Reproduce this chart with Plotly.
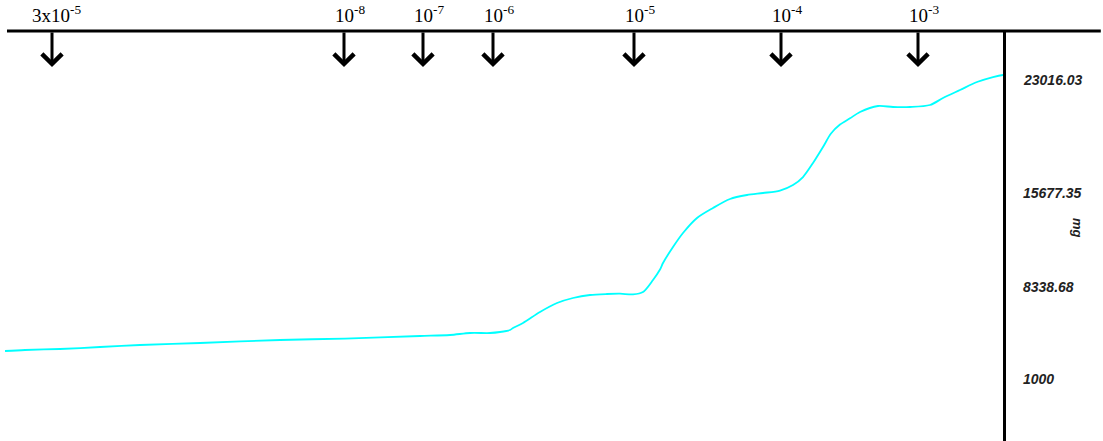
import plotly.graph_objects as go

# Trace data (time units, mass in mg)
time_s = [0, 20, 55, 95, 135, 195, 275, 340, 415, 445, 465, 485, 495, 505, 508, 518,
          535, 552, 568, 585, 602, 615, 628, 638, 648, 655, 658, 668, 678, 692,
          708, 725, 742, 758, 775, 788, 798, 808, 818, 826, 835, 845, 855, 873, 888, 905,
          925, 938, 955, 972, 988, 998, 1000]
mass_mg = [3100, 3173, 3245, 3390, 3535, 3680, 3897, 4000, 4186, 4259, 4404, 4404, 4476,
           4621, 4766, 5128, 5925, 6576, 6938, 7156, 7228, 7250, 7200, 7373, 8242,
           9000, 9473, 10632, 11646, 12732, 13456, 14108, 14398, 14543, 14720, 15122,
           15701, 16715, 17874, 18850, 19500, 19950, 20409, 20843, 20771, 20771, 20916,
           21422, 22002, 22581, 22943, 23088, 23088]

# Addition markers (time at which each concentration was added)
dose_time = [47, 339, 418, 488, 629, 776, 913]
dose_label = ["3x10<sup>-5</sup>", "10<sup>-8</sup>", "10<sup>-7</sup>", "10<sup>-6</sup>",
              "10<sup>-5</sup>", "10<sup>-4</sup>", "10<sup>-3</sup>"]
dose_label_shift = [4, 6, 6, 6, 6, 6, 6]

# Right-hand scale labels
scale_labels = ["23016.03", "15677.35", "8338.68", "1000"]
scale_label_pos = [0.8805, 0.6049, 0.3756, 0.1512]

fig = go.Figure()
fig.add_trace(go.Scatter(
    x=time_s, y=mass_mg, mode="lines",
    line=dict(color="#00FFFF", width=1.8, shape="spline", smoothing=0.8),
    hoverinfo="skip", showlegend=False,
))

annotations = []
for t, lab, sh in zip(dose_time, dose_label, dose_label_shift):
    annotations.append(dict(
        x=t, y=0.912, xref="x", yref="paper", text="", showarrow=True,
        ax=0, ay=-36, axref="pixel", ayref="pixel",
        arrowhead=4, arrowsize=1.3, arrowwidth=3, arrowcolor="black", standoff=0,
    ))
    annotations.append(dict(
        x=t, y=1.0, xref="x", yref="paper", text=lab, showarrow=False,
        xanchor="center", yanchor="bottom", xshift=sh, yshift=3,
        font=dict(family="Liberation Serif", size=19, color="black"),
    ))

for lab, yp in zip(scale_labels, scale_label_pos):
    annotations.append(dict(
        x=1, y=yp, xref="paper", yref="paper", text="<b><i>" + lab + "</i></b>",
        showarrow=False, xanchor="left", yanchor="middle", xshift=18,
        font=dict(family="Liberation Sans", size=14, color="#222222"),
    ))

annotations.append(dict(
    x=1, y=0.5195, xref="paper", yref="paper", text="<b><i>mg</i></b>",
    showarrow=False, xanchor="center", yanchor="middle", xshift=75, textangle=90,
    font=dict(family="Liberation Sans", size=13, color="#222222"),
))

fig.update_layout(
    width=1103, height=441,
    margin=dict(l=5, r=100, t=31, b=0),
    paper_bgcolor="white", plot_bgcolor="white",
    xaxis=dict(range=[0, 998], showgrid=False, zeroline=False, showticklabels=False,
               showline=False, ticks=""),
    yaxis=dict(range=[-3418, 26275], side="right", showgrid=False, zeroline=False,
               showticklabels=False, showline=True, linewidth=3, linecolor="black",
               ticks=""),
    annotations=annotations,
    shapes=[dict(type="line", xref="paper", yref="paper", x0=0.002, x1=1.098,
                 y0=1, y1=1, line=dict(color="black", width=3))],
)

fig.write_html("out.html", config={"displayModeBar": False},
               post_script="document.body.style.margin='0';document.body.style.overflow='hidden';")
